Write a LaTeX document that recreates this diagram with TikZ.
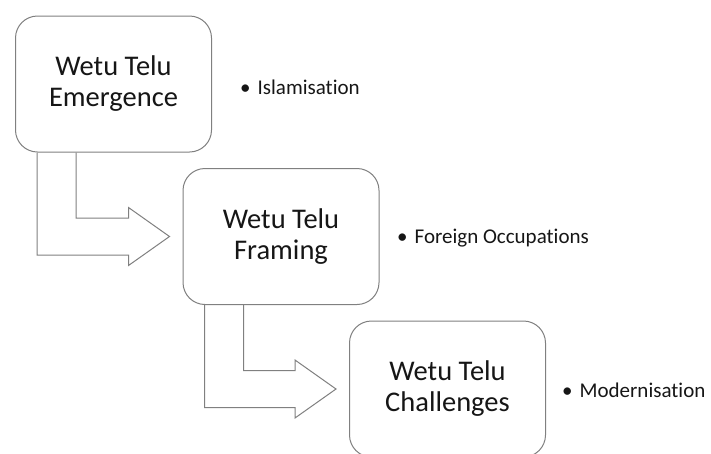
\documentclass[tikz,border=0pt]{standalone}
\usepackage{fontspec}
\setmainfont{Carlito}[Ligatures=NoCommon]
\usetikzlibrary{calc}
\definecolor{edgegray}{RGB}{128,128,128}
\definecolor{inktext}{RGB}{22,22,22}
\tikzset{
  stage/.style={draw=edgegray, line width=1pt, fill=white, rounded corners=22pt,
    minimum width=196pt, minimum height=136pt, inner sep=0pt, align=center,
    text=inktext, font=\fontsize{28.5}{31}\selectfont},
  note/.style={anchor=base west, inner sep=0pt, text=inktext,
    font=\fontsize{21}{24}\selectfont},
  bentarrow/.style={draw=edgegray, line width=1pt, line join=miter}
}
% hollow elbow arrow from the foot of one stage to the left side of the next
\newcommand\stagearrow[2]{%
  \draw[bentarrow] let \p1=(#1.south west), \p2=(#2.west) in
    (\x1+22pt,\y1) -- (\x1+22pt,\y2-18.5pt) -- (\x2-54pt,\y2-18.5pt)
    -- (\x2-54pt,\y2-29pt) -- (\x2-13pt,\y2) -- (\x2-54pt,\y2+29pt)
    -- (\x2-54pt,\y2+18.5pt) -- (\x1+61pt,\y2+18.5pt) -- (\x1+61pt,\y1);}
\begin{document}
\begin{tikzpicture}[x=1pt, y=-1pt]
  \path[use as bounding box, fill=white] (0,0) rectangle (711,453);

  \node[stage] (b1) at (113.5,84)  {Wetu Telu\\Emergence};
  \node[stage] (b2) at (281,236.5) {Wetu Telu\\Framing};
  \node[stage] (b3) at (447.5,389) {Wetu Telu\\Challenges};

  \stagearrow{b1}{b2}
  \stagearrow{b2}{b3}

  \node[note] (n1) at (240,94)  {•\hskip 7pt Islamisation};
  \node[note] (n2) at (397,243) {•\hskip 7pt Foreign Occupations};
  \node[note] (n3) at (562,397) {•\hskip 7pt Modernisation};
\end{tikzpicture}
\end{document}
